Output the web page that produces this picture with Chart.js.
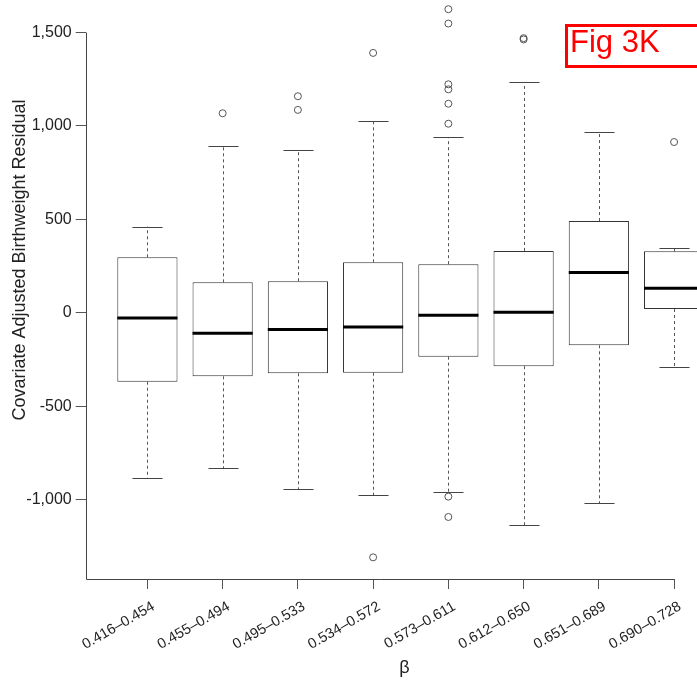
<!DOCTYPE html>
<html>
<head>
<meta charset="utf-8">
<script src="https://cdn.jsdelivr.net/npm/chart.js@4.4.1/dist/chart.umd.min.js"></script>
<style>
  html, body { margin: 0; padding: 0; background: #fff; overflow: hidden; }
  body { width: 697px; height: 681px; position: relative; }
  #wrap { position: absolute; left: 0; top: -79px; width: 728px; height: 760px; }
  #figTag {
    position: absolute; left: 565px; top: 24px; width: 140px; height: 44px;
    box-sizing: border-box; border: 3px solid #ff0000; color: #ff0000;
    font: 31px 'Liberation Sans', Arial, sans-serif; line-height: 29px;
    padding-left: 2px; white-space: nowrap;
  }
</style>
</head>
<body>
<div id="wrap"><canvas id="chart" width="728" height="760"></canvas></div>
<div id="figTag">Fig 3K</div>
<script>
const categories = ['0.416–0.454', '0.455–0.494', '0.495–0.533', '0.534–0.572',
                    '0.573–0.611', '0.612–0.650', '0.651–0.689', '0.690–0.728'];
const whiskerLow  = [-884, -832, -943, -977, -959, -1138, -1020, -292];
const q1          = [-369, -340, -324, -321, -235, -286, -174, 20];
const median      = [-28, -110, -90, -76, -13, 3, 215, 131];
const q3          = [297, 163, 169, 270, 260, 331, 491, 329];
const whiskerHigh = [461, 891, 870, 1027, 940, 1234, 968, 349];
const outliers = [
  [],
  [1068],
  [1159, 1086],
  [1391, -1309],
  [1625, 1548, 1223, 1196, 1119, 1012, -984, -1093],
  [1463, 1470],
  [],
  [914]
];
const yTicks = [-1000, -500, 0, 500, 1000, 1500];

const sans = "'Liberation Sans', Arial, sans-serif";

const boxParts = {
  id: 'boxParts',
  beforeDatasetsDraw(chart) {
    const { ctx } = chart;
    const xs = chart.scales.x, ys = chart.scales.y;
    ctx.save();
    categories.forEach((c, i) => {
      const x = Math.round(xs.getPixelForValue(i + 1)) + 0.5;
      const half = xs.getPixelForValue(i + 1.2) - xs.getPixelForValue(i + 1);
      // dashed whiskers
      ctx.strokeStyle = '#555';
      ctx.lineWidth = 1;
      ctx.setLineDash([3, 3]);
      ctx.beginPath();
      ctx.moveTo(x, ys.getPixelForValue(q3[i]));
      ctx.lineTo(x, ys.getPixelForValue(whiskerHigh[i]));
      ctx.moveTo(x, ys.getPixelForValue(q1[i]));
      ctx.lineTo(x, ys.getPixelForValue(whiskerLow[i]));
      ctx.stroke();
      // caps
      ctx.setLineDash([]);
      ctx.strokeStyle = '#444';
      ctx.beginPath();
      [whiskerHigh[i], whiskerLow[i]].forEach(v => {
        const y = Math.round(ys.getPixelForValue(v)) + 0.5;
        ctx.moveTo(x - half, y);
        ctx.lineTo(x + half, y);
      });
      ctx.stroke();
    });
    ctx.restore();
  },
  afterDatasetsDraw(chart) {
    const { ctx, chartArea } = chart;
    const xs = chart.scales.x, ys = chart.scales.y;
    const bars = chart.getDatasetMeta(0).data;
    ctx.save();
    ctx.strokeStyle = '#000';
    ctx.lineWidth = 3;
    bars.forEach((bar, i) => {
      const y = ys.getPixelForValue(median[i]);
      ctx.beginPath();
      ctx.moveTo(bar.x - bar.width / 2, y);
      ctx.lineTo(bar.x + bar.width / 2, y);
      ctx.stroke();
    });
    // axis lines, R style
    ctx.strokeStyle = '#444';
    ctx.lineWidth = 1;
    const lx = Math.round(chartArea.left) + 0.5;
    const by = Math.round(chartArea.bottom) + 0.5;
    ctx.beginPath();
    ctx.moveTo(lx, ys.getPixelForValue(yTicks[yTicks.length - 1]));
    ctx.lineTo(lx, by);
    ctx.lineTo(xs.getPixelForValue(categories.length), by);
    ctx.stroke();
    ctx.restore();
  }
};

new Chart(document.getElementById('chart'), {
  type: 'bar',
  data: {
    datasets: [
      {
        type: 'bar',
        data: categories.map((c, i) => ({ x: i + 1, y: [q1[i], q3[i]] })),
        backgroundColor: '#fff',
        borderColor: '#333',
        borderWidth: 1,
        borderSkipped: false,
        categoryPercentage: 1,
        barPercentage: 0.8,
        order: 2
      },
      {
        type: 'scatter',
        data: outliers.flatMap((vals, i) => vals.map(v => ({ x: i + 1, y: v }))),
        pointRadius: 3.5,
        pointBorderWidth: 1,
        pointBorderColor: '#555',
        pointBackgroundColor: 'rgba(0,0,0,0)',
        order: 1
      }
    ]
  },
  options: {
    responsive: false,
    animation: false,
    layout: { padding: { top: 20, left: 0, right: 0, bottom: 0 } },
    plugins: { legend: { display: false }, tooltip: { enabled: false } },
    scales: {
      x: {
        type: 'linear',
        offset: false,
        min: 0.18,
        max: 8.65,
        border: { display: false },
        grid: { offset: false, drawOnChartArea: false, drawTicks: true, tickLength: 10, color: '#555' },
        afterBuildTicks: s => { s.ticks = categories.map((c, i) => ({ value: i + 1 })); },
        afterFit: s => { s.height = 102; },
        ticks: {
          autoSkip: false,
          minRotation: 30,
          maxRotation: 30,
          padding: 9,
          labelOffset: 6,
          color: '#222',
          font: { family: sans, size: 14.5 },
          callback: v => categories[v - 1]
        },
        title: {
          display: true,
          text: 'β',
          color: '#222',
          font: { family: sans, size: 18 },
          padding: { top: 0, bottom: 2 }
        }
      },
      y: {
        type: 'linear',
        min: -1425,
        max: 1990,
        border: { display: false },
        grid: { drawOnChartArea: false, drawTicks: true, tickLength: 10, color: '#555' },
        afterBuildTicks: s => { s.ticks = yTicks.map(v => ({ value: v })); },
        afterFit: s => { s.width = 85.7; },
        ticks: {
          padding: 4,
          color: '#222',
          font: { family: sans, size: 16 },
          callback: v => v.toLocaleString('en-US')
        },
        title: {
          display: true,
          text: 'Covariate Adjusted Birthweight Residual',
          color: '#222',
          font: { family: sans, size: 18 },
          padding: { top: 9, bottom: 0 }
        }
      }
    }
  },
  plugins: [boxParts]
});
</script>
</body>
</html>
